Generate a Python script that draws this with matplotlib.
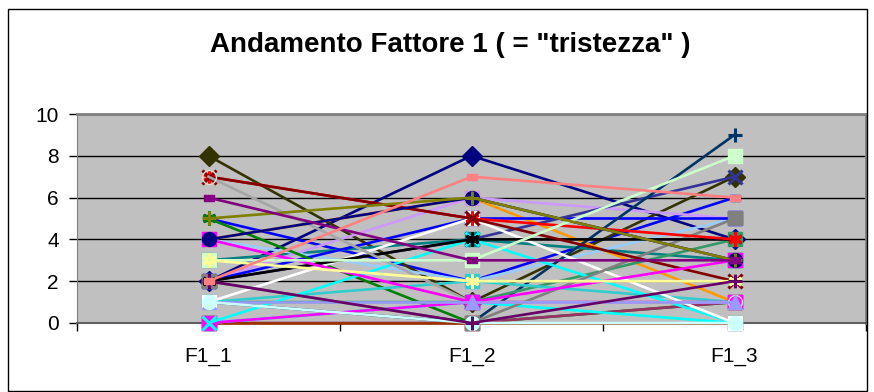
import numpy as np
import matplotlib.pyplot as plt
from matplotlib.patches import Rectangle

plt.rcParams['font.family'] = ['Liberation Sans', 'DejaVu Sans']

categorie = ["F1_1", "F1_2", "F1_3"]
y_ticks = [0, 2, 4, 6, 8, 10]

# valori dei soggetti nelle tre rilevazioni (ordine di disegno)
serie = [
    [1, 1, 1],   # giallo
    [5, 2, 6],   # blu 2
    [2, 8, 4],   # blu notte rombo
    [8, 1, 7],   # oliva scuro
    [4, 6, 1],   # arancio
    [3, 4, 3],   # verde acqua
    [4, 2, 5],   # azzurro
    [2, 6, 5],   # lavanda
    [2, 5, 5],   # blu
    [2, 4, 7],   # indaco
    [1, 0, 9],   # blu scuro
    [5, 0, 1],   # verde
    [1, 1, 4],   # verde mare
    [1, 2, 1],   # turchese
    [0, 0, 1],   # prugna
    [0, 0, 0],   # marrone
    [0, 1, 0],   # ciano 2
    [0, 1, 1],   # magenta 2
    [0, 4, 0],   # ciano
    [1, 5, 0],   # bianco
    [2, 0, 5],   # grigio
    [2, 4, 4],   # nero
    [7, 5, 4],   # rosso
    [7, 5, 2],   # rosso scuro
    [7, 1, 1],   # grigio chiaro
    [4, 1, 3],   # magenta
    [1, 1, 1],   # pervinca
    [1, 0, 0],   # ciano chiaro
    [4, 6, 3],   # blu notte cerchio
    [3, 3, 8],   # verde chiaro
    [3, 2, 2],   # giallo chiaro
    [5, 6, 3],   # oliva
    [6, 3, 3],   # viola
    [2, 0, 2],   # viola scuro
    [2, 7, 6],   # rosa
]

STELLA = (6, 2, 0)
TRATTINO = [(-1, -0.55), (1, -0.55), (1, 0.55), (-1, 0.55), (-1, -0.55)]

stile = [
    ("#FFFF00", "^"), ("#0000FF", TRATTINO), ("#000080", "D"), ("#333300", "D"),
    ("#FF9900", "s"), ("#008080", "s"), ("#99CCFF", "s"), ("#CC99FF", "s"),
    ("#0000FF", "s"), ("#333399", "x"), ("#003366", "+"), ("#008000", STELLA),
    ("#339966", "s"), ("#33CCCC", "s"), ("#993366", "s"), ("#993300", "s"),
    ("#00FFFF", "s"), ("#FF00FF", "s"), ("#00FFFF", "x"), ("#FFFFFF", "s"),
    ("#808080", "s"),
    ("#000000", STELLA), ("#FF0000", STELLA), ("#800000", "x"), ("#A6A6A6", "o"),
    ("#FF00FF", "s"), ("#9999FF", "^"), ("#CCFFFF", "o"),
    ("#000080", "o"), ("#CCFFCC", "s"), ("#FFFF99", STELLA), ("#808000", "+"),
    ("#800080", TRATTINO), ("#660066", "+"), ("#FF8080", TRATTINO),
]

fig = plt.figure(figsize=(8.74, 3.92), dpi=100)
fig.patches.append(Rectangle((8 / 874, 1 - 391 / 392), 859 / 874, 382 / 392,
                             transform=fig.transFigure, fill=False,
                             edgecolor="black", linewidth=1.0))

ax = fig.add_axes([77 / 874, 1 - 323 / 392, 789 / 874, 209 / 392])
ax.set_facecolor("#C0C0C0")

x = np.arange(len(categorie))
for valori, (col, mk) in zip(serie, stile):
    size = 10
    faccia, bordo = col, col
    if mk is TRATTINO:
        size = 7
    if mk in ("x", "+", STELLA):
        mew = 2.2
    else:
        mew = 1.0
    if col == "#A6A6A6":
        faccia, bordo = "none", "#DCDCDC"
    ax.plot(x, valori, color=col, linewidth=1.9, marker=mk, markersize=size,
            markerfacecolor=faccia, markeredgecolor=bordo, markeredgewidth=mew,
            clip_on=False, zorder=3)

ax.set_xlim(-0.5, 2.5)
ax.set_ylim(0, 10)
ax.set_yticks(y_ticks)
ax.set_yticklabels([str(v) for v in y_ticks], fontsize=15)
ax.yaxis.grid(True, color="black", linewidth=1.0)
ax.set_axisbelow(True)
ax.set_xticks(x)
ax.set_xticklabels(categorie, fontsize=15)
ax.set_xticks([-0.5, 0.5, 1.5, 2.5], minor=True)
ax.tick_params(axis="x", which="major", length=0, pad=17)
ax.tick_params(axis="x", which="minor", length=6, width=1, color="black")
ax.tick_params(axis="y", length=6, width=1, color="black", pad=7)

for lato in ("top", "right"):
    ax.spines[lato].set_color("#808080")
    ax.spines[lato].set_linewidth(2)
ax.spines["left"].set_color("#808080")
ax.spines["bottom"].set_color("#606060")
ax.spines["bottom"].set_linewidth(1.5)

fig.text(450 / 874, 1 - 45 / 392, 'Andamento Fattore 1 ( = "tristezza" )',
         ha="center", va="center", fontsize=20, fontweight="bold")

fig.savefig("out.png", dpi=100)
